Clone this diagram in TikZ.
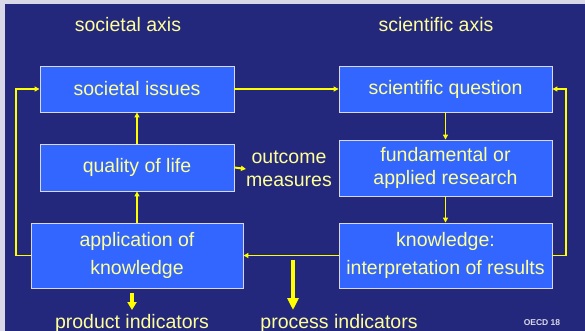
\documentclass[tikz,border=0pt]{standalone}
\usepackage{fontspec}
\setmainfont{Liberation Sans}
\usetikzlibrary{arrows.meta}
\definecolor{bgblue}{HTML}{24287C}
\definecolor{boxblue}{HTML}{3366FF}
\definecolor{txtyel}{HTML}{FFFF99}
\definecolor{lineyel}{HTML}{FFFF00}
\definecolor{edgegray}{HTML}{D8D8E8}
\tikzset{
  box/.style={draw=edgegray, line width=0.9pt, fill=boxblue, text=txtyel,
    font=\fontsize{19.5}{28}\selectfont, align=center, inner sep=0pt},
  lbl/.style={text=txtyel, font=\fontsize{19.5}{23}\selectfont, align=center, inner sep=0pt},
  conn/.style={draw=lineyel, line width=1.4pt, -{Triangle[length=5pt,width=5pt]}},
  bigarrow/.style={draw=lineyel, line width=4.5pt, -{Triangle[length=12pt,width=11pt]}},
}
\begin{document}
\begin{tikzpicture}[x=1pt,y=-1pt]
\useasboundingbox (0,0) rectangle (585,331);
\fill[edgegray] (0,0) rectangle (585,331);
\fill[bgblue] (5,4) rectangle (585,331);

\node[lbl] (saxis) at (128,25) {societal axis};
\node[lbl] (caxis) at (436,25) {scientific axis};

\node[box, minimum width=194pt, minimum height=46pt] (si) at (137,89) {societal issues};
\node[box, minimum width=194pt, minimum height=47pt] (ql) at (137,167.5) {quality of life};
\node[box, minimum width=212pt, minimum height=65pt] (ak) at (137,255.5) {application of\\knowledge};
\node[box, minimum width=213pt, minimum height=46pt] (sq) at (445.5,89) {scientific question};
\node[box, minimum width=213pt, minimum height=56pt, font=\fontsize{19.5}{23}\selectfont] (fr) at (445.5,168) {fundamental or\\applied research};
\node[box, minimum width=213pt, minimum height=65pt] (kn) at (445.5,255.5) {knowledge:\\interpretation of results};

\node[lbl] (om) at (289,169) {outcome\\measures};
\node[lbl, anchor=base] (pi) at (132,328) {product indicators};
\node[lbl, anchor=base] (pr) at (339,328) {process indicators};
\node[text=edgegray, font=\fontsize{8.5}{10}\selectfont\bfseries, inner sep=0pt] (oecd) at (542,323) {OECD 18};

\coordinate (lt) at (16,89);
\coordinate (lb) at (16,255.5);
\coordinate (rt) at (566,89);
\coordinate (rb) at (566,255.5);
\coordinate (pa1) at (132,293);
\coordinate (pa2) at (132,310);
\coordinate (pr1) at (293,260);
\coordinate (pr2) at (293,310);

\draw[conn] (si.east) -- (sq.west);
\draw[conn] (ql.north) -- (si.south);
\draw[conn] (ak.north) -- (ql.south);
\draw[conn, line width=2pt] (ql.east) -- (om.west);
\draw[conn] (sq.south) -- (fr.north);
\draw[conn] (fr.south) -- (kn.north);
\draw[conn] (kn.west) -- (ak.east);
\draw[conn] (ak.west) -- (lb) -- (lt) -- (si.west);
\draw[conn] (kn.east) -- (rb) -- (rt) -- (sq.east);
\draw[bigarrow, -{Triangle[length=8pt,width=9pt]}] (pa1) -- (pa2);
\draw[bigarrow] (pr1) -- (pr2);
\end{tikzpicture}
\end{document}
